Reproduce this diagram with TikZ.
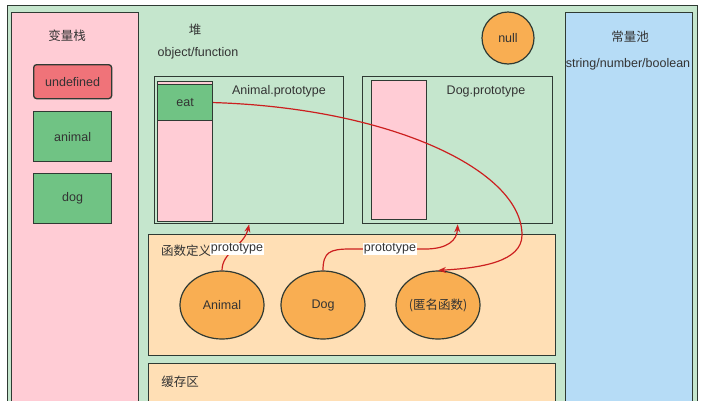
\documentclass[tikz,border=0pt]{standalone}
\usepackage{fontspec}
\setmainfont{Liberation Sans}
\newfontfamily\cjk{Noto Sans CJK SC}
\usetikzlibrary{arrows.meta,shapes.geometric}
\definecolor{heapc}{HTML}{C5E6CD}
\definecolor{stackc}{HTML}{FFCCD5}
\definecolor{constc}{HTML}{B6DCF6}
\definecolor{funcc}{HTML}{FFDFB5}
\definecolor{ovalc}{HTML}{F9AE52}
\definecolor{cellc}{HTML}{70C384}
\definecolor{undefc}{HTML}{F07379}
\definecolor{edgec}{HTML}{2F3A33}
\definecolor{txtc}{HTML}{333333}
\definecolor{arrc}{HTML}{CC1F1F}
\newcommand\fsz{\fontsize{12.5}{15}\selectfont}
\begin{document}
\begin{tikzpicture}[x=1pt,y=-1pt,
  frame/.style={draw=edgec, line width=1.3pt, inner sep=0pt, anchor=north west},
  cellbox/.style={frame, fill=cellc, minimum width=78, text=txtc, font=\fsz},
  oval/.style={draw=edgec, line width=1.2pt, fill=ovalc, ellipse, minimum width=84, minimum height=68, inner sep=0pt, text=txtc, font=\fsz},
  lbl/.style={text=txtc, font=\fsz, inner sep=1pt},
  arr/.style={draw=arrc, line width=1.2pt, -{Stealth[length=8pt,width=6pt]}},
]
\useasboundingbox (0,0) rectangle (704,400);
\clip (0,0) rectangle (704,400);
\fill[white] (0,0) rectangle (704,400);
% outer heap area
\node[frame, fill=heapc, minimum width=690, minimum height=420] (heap) at (7,5) {};
% stack
\node[frame, fill=stackc, minimum width=127, minimum height=410] (stack) at (11,12) {};
% constants pool
\node[frame, fill=constc, minimum width=127, minimum height=410] (pool) at (565,12) {};
% stack labels and cells
\node[lbl] (stacklbl) at (67,36) {\cjk 变量栈};
\node[cellbox, fill=undefc, rounded corners=3pt, minimum height=34] (undef) at (33,64) {};
\node[lbl] at (undef.center) {undefined};
\node[cellbox, minimum height=50] (animalv) at (33,111) {};
\node[lbl] at (animalv.center) {animal};
\node[cellbox, minimum height=50] (dogv) at (33,173) {};
\node[lbl] at (dogv.center) {dog};
% heap labels
\node[lbl] (heaplbl) at (195,30) {\cjk 堆};
\node[lbl] (objlbl) at (198,53) {object/function};
\node[draw=edgec, line width=1.2pt, fill=ovalc, circle, minimum size=52, inner sep=0pt, text=txtc, font=\fsz] (null) at (508,38) {null};
% constants labels
\node[lbl] (poollbl) at (630,37) {\cjk 常量池};
\node[lbl] (typeslbl) at (628,64) {string/number/boolean};
% Animal.prototype
\node[frame, minimum width=189, minimum height=147] (aproto) at (154,76) {};
\node[lbl] at (279,91) {Animal.prototype};
\node[frame, line width=1.1pt, fill=stackc, minimum width=55, minimum height=140] (acol) at (157,81) {};
\node[frame, line width=1.1pt, fill=cellc, minimum width=55, minimum height=36, text=txtc, font=\fsz] (eat) at (157,84) {eat};
% Dog.prototype
\node[frame, minimum width=190, minimum height=147] (dproto) at (362,76) {};
\node[lbl] at (486,91) {Dog.prototype};
\node[frame, line width=1.1pt, fill=stackc, minimum width=55, minimum height=139] (dcol) at (371,80) {};
% function definitions
\node[frame, fill=funcc, minimum width=407, minimum height=121] (funcs) at (148,234) {};
\node[lbl] (funclbl) at (186,251) {\cjk 函数定义};
\node[oval] (animal) at (222,305) {Animal};
\node[oval] (dog) at (323,305) {Dog};
\node[oval] (anon) at (438,305) {\cjk (匿名函数)};
% cache
\node[frame, fill=funcc, minimum width=407, minimum height=60] (cache) at (148,363) {};
\node[lbl] (cachelbl) at (180,382) {\cjk 缓存区};
% arrows
\draw[arr] (animal.north) .. controls (222,252) and (244,246) .. (aproto.south);
\draw[arr] (dog.north) .. controls (323,252) and (330,249) .. (350,249) -- (425,249) .. controls (448,249) and (457,240) .. (dproto.south);
\draw[arr] (eat.east) .. controls (390,108) and (522,170) .. (522,235) .. controls (522,262) and (480,268) .. (anon.north);
% labels over arrows
\node[lbl, fill=white, inner sep=0.5pt] (p1) at (237,249) {prototype};
\node[lbl, fill=white, inner sep=0.5pt] (p2) at (390,249) {prototype};
\end{tikzpicture}
\end{document}
